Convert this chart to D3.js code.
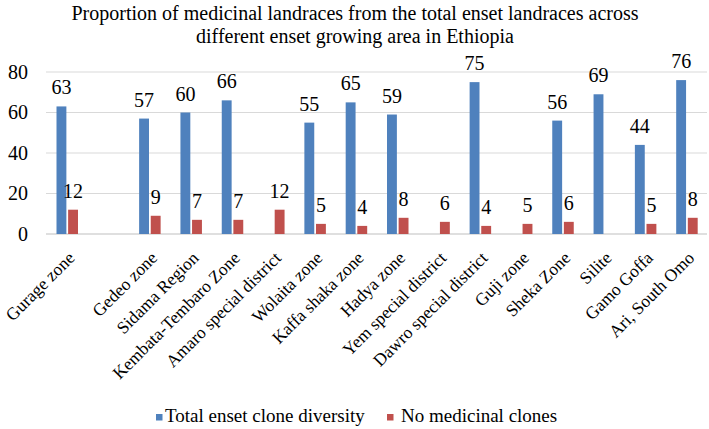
<!DOCTYPE html>
<html><head><meta charset="utf-8">
<script src="https://cdn.jsdelivr.net/npm/d3@7"></script>
<style>body{margin:0;background:#fff}svg{display:block}text{font-family:"Liberation Serif","Times New Roman",serif;fill:#000}</style>
</head><body><svg id="c" width="709" height="429"></svg>
<script>
const categories = ["Gurage zone","","Gedeo zone","Sidama Region","Kembata-Tembaro Zone","Amaro special district","Wolaita zone","Kaffa shaka zone","Hadya zone","Yem special district","Dawro special district","Guji zone","Sheka Zone","Silite","Gamo Goffa","Ari, South Omo"];
const totalDiversity = [63,null,57,60,66,null,55,65,59,null,75,null,56,69,44,76];
const medicinal = [12,null,9,7,7,12,5,4,8,6,4,5,6,null,5,8];
const seriesNames = ["Total enset clone diversity","No medicinal clones"];
const colors = ["#4F81BD","#C0504D"];
const yTicks = [0,20,40,60,80];
const titleLines = ["Proportion of medicinal landraces from the total enset landraces across","different enset growing area in Ethiopia"];

const svg = d3.select("#c");
const L=46,R=707,T=72,B=234;
const keys = categories.map((c,i)=>i);
const x = d3.scaleBand().domain(keys).range([L,R]).padding(0);
const x1 = d3.scaleBand().domain([0,1]).range([10.5,32]).paddingInner(0.15);
const y = d3.scaleLinear().domain([0,80]).range([B,T]);

svg.append("g").selectAll("text").data(titleLines).join("text")
  .attr("x",355).attr("y",(d,i)=>20+i*23).attr("text-anchor","middle").attr("font-size",20).text(d=>d);

svg.append("g").selectAll("line").data(yTicks).join("line")
  .attr("x1",L).attr("x2",R).attr("y1",d=>y(d)).attr("y2",d=>y(d))
  .attr("stroke",d=>d===0?"#BFBFBF":"#D9D9D9").attr("stroke-width",1);

const yAxis = d3.axisLeft(y).tickValues(yTicks).tickSize(0).tickPadding(18);
const ga = svg.append("g").attr("transform",`translate(${L},0)`).call(yAxis);
ga.select(".domain").remove();
ga.attr("font-family",null);
ga.selectAll("text").attr("font-size",20).style("font-family","'Liberation Serif',serif");

const data = [totalDiversity, medicinal];
data.forEach((vals,s)=>{
  const g = svg.append("g");
  const pts = vals.map((v,i)=>({v,i})).filter(d=>d.v!==null);
  g.selectAll("rect").data(pts).join("rect")
    .attr("x",d=>x(d.i)+x1(s)).attr("width",x1.bandwidth())
    .attr("y",d=>y(d.v)).attr("height",d=>y(0)-y(d.v)).attr("fill",colors[s]);
  g.selectAll("text").data(pts).join("text")
    .attr("x",d=>x(d.i)+x1(s)+x1.bandwidth()/2).attr("y",d=>y(d.v)-12)
    .attr("text-anchor","middle").attr("font-size",20).text(d=>d.v);
});

svg.append("g").selectAll("text").data(keys).join("text")
  .attr("transform",d=>`translate(${x(d)+x.bandwidth()/2+9},${B+25}) rotate(-45)`)
  .attr("text-anchor","end").attr("font-size",17.5).text(d=>categories[d]);

const leg = svg.append("g");
const legX=[156,387], legT=[165,401];
seriesNames.forEach((n,i)=>{
  leg.append("rect").attr("x",legX[i]).attr("y",414).attr("width",6.5).attr("height",6.5).attr("fill",colors[i]);
  leg.append("text").attr("x",legT[i]).attr("y",422).attr("font-size",19).text(n);
});
</script></body></html>
